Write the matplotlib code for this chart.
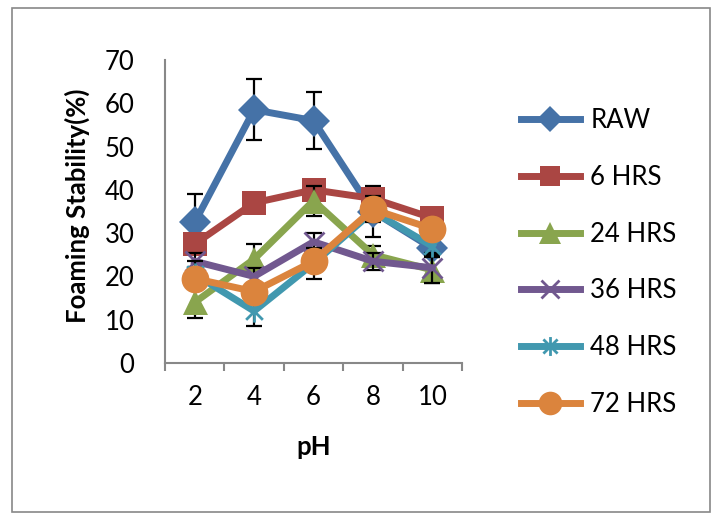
import matplotlib
matplotlib.use("Agg")
import matplotlib.pyplot as plt
from matplotlib.path import Path
from matplotlib.patches import Rectangle

plt.rcParams['font.family'] = ['Lato', 'DejaVu Sans']

# data
ph_labels = ["2", "4", "6", "8", "10"]
series_names = ["RAW", "6 HRS", "24 HRS", "36 HRS", "48 HRS", "72 HRS"]
raw = [32.5, 58.5, 56.0, 35.0, 26.5]
hrs6 = [27.5, 37.0, 40.0, 38.0, 33.5]
hrs24 = [14.0, 24.0, 37.5, 25.0, 21.5]
hrs36 = [23.5, 20.0, 28.0, 23.5, 22.0]
hrs48 = [20.5, 12.0, 23.0, 35.0, 27.0]
hrs72 = [19.5, 16.5, 23.5, 35.5, 31.0]

err_raw = [6.5, 7.0, 6.5, 6.0, 2.0]
err_6 = [2.0, 2.0, 2.0, 2.5, 1.5]
err_24 = [3.5, 3.5, 3.5, 2.0, 3.0]
err_36 = [2.0, 2.0, 2.0, 2.0, 3.5]
err_48 = [3.0, 3.5, 3.5, 2.0, 2.0]
err_72 = [2.0, 2.0, 2.0, 3.0, 2.0]

values = [raw, hrs6, hrs24, hrs36, hrs48, hrs72]
errors = [err_raw, err_6, err_24, err_36, err_48, err_72]
colors = ["#4572A7", "#AA4643", "#89A54E", "#71588F", "#4198AF", "#DB843D"]

# asterisk marker like Excel's star (vertical bar + X)
star = Path([(0, -1), (0, 1), (-0.75, -0.75), (0.75, 0.75), (-0.75, 0.75), (0.75, -0.75)],
            [Path.MOVETO, Path.LINETO, Path.MOVETO, Path.LINETO, Path.MOVETO, Path.LINETO])

marker_styles = [
    dict(marker="D", ms=16, mew=0),
    dict(marker="s", ms=17, mew=0),
    dict(marker="^", ms=18, mew=0),
    dict(marker="x", ms=15, mew=2),
    dict(marker=star, ms=16, mew=2),
    dict(marker="o", ms=20, mew=0),
]

fs = 18.5

fig = plt.figure(figsize=(7.18, 5.23), dpi=100)
fig.patches.append(Rectangle((12 / 718, 1 - 512 / 523), 698 / 718, 504 / 523,
                             transform=fig.transFigure, fill=False,
                             edgecolor="#888888", lw=1.2))

ax = fig.add_axes([165 / 718, 1 - 363 / 523, 297 / 718, 303 / 523])
x = list(range(len(ph_labels)))

handles = []
for i, (vals, errs, c, ms) in enumerate(zip(values, errors, colors, marker_styles)):
    ax.errorbar(x, vals, yerr=errs, fmt="none", ecolor="black", elinewidth=1.6,
                capsize=6, capthick=1.6, zorder=2 + i)
    h, = ax.plot(x, vals, color=c, lw=5, solid_joinstyle="round",
                 markerfacecolor=c, markeredgecolor=c, zorder=2.5 + i,
                 label=series_names[i], **ms)
    handles.append(h)

ax.set_xlim(-0.5, 4.5)
ax.set_ylim(0, 70)
ax.set_yticks(range(0, 71, 10))
ax.set_xticks(x)
ax.set_xticklabels(ph_labels)
ax.set_xticks([v - 0.5 for v in range(6)], minor=True)
ax.tick_params(axis="x", which="major", length=0, pad=16, labelsize=fs)
ax.tick_params(axis="x", which="minor", length=6, width=1.5, color="#888888", direction="out")
ax.tick_params(axis="y", length=0, pad=22, labelsize=fs)
for s in ["top", "right"]:
    ax.spines[s].set_visible(False)
for s in ["left", "bottom"]:
    ax.spines[s].set_color("#888888")
    ax.spines[s].set_linewidth(1.5)

fig.text(77 / 718, 1 - 206 / 523, "Foaming Stability(%)", rotation=90,
         ha="center", va="center", fontsize=fs, fontweight="bold")
fig.text(314 / 718, 1 - 447 / 523, "pH", ha="center", va="center",
         fontsize=fs, fontweight="bold")

fig.legend(handles=handles, loc="upper left", bbox_to_anchor=(508 / 718, 1 - 95 / 523),
           frameon=False, fontsize=fs, handlelength=2.3, handletextpad=0.4,
           labelspacing=1.24, borderpad=0, markerscale=0.85)

fig.savefig("out.png", dpi=100)
